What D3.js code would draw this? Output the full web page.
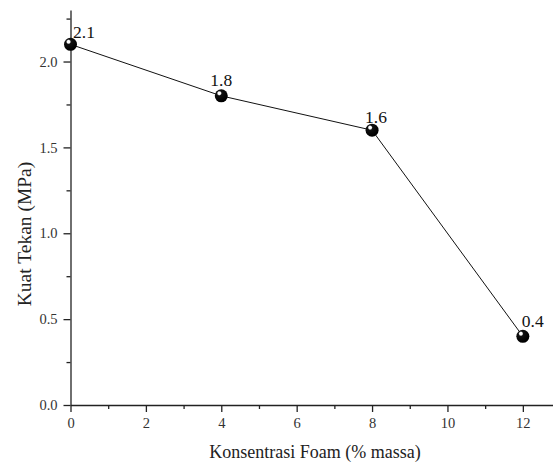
<!DOCTYPE html>
<html>
<head>
<meta charset="utf-8">
<script src="https://cdn.jsdelivr.net/npm/d3@7"></script>
<style>
  body { margin: 0; background: #fff; }
</style>
</head>
<body>
<div id="chart"></div>
<script>
// data
const foam = [0, 4, 8, 12];
const kuatTekan = [2.1, 1.8, 1.6, 0.4];
const pointLabels = ["2.1", "1.8", "1.6", "0.4"];
const xTicks = [0, 2, 4, 6, 8, 10, 12];
const yTicks = [0.0, 0.5, 1.0, 1.5, 2.0];

const width = 553, height = 468;
const margin = { top: 10, right: 0, bottom: 63, left: 70.5 };
const serif = '"Liberation Serif", "Times New Roman", serif';

const svg = d3.select('#chart').append('svg')
    .attr('width', width)
    .attr('height', height)
    .style('font-family', serif);

const x = d3.scaleLinear().domain([0, 12.8]).range([margin.left, width - margin.right]);
const y = d3.scaleLinear().domain([0, 2.3]).range([height - margin.bottom, margin.top]);

const axisColor = '#222';

// minor ticks first, then major axes on top
svg.append('g')
    .attr('transform', `translate(0,${y(0)})`)
    .call(d3.axisBottom(x).tickValues([1, 3, 5, 7, 9, 11]).tickSize(4).tickFormat(''))
    .call(g => g.select('.domain').remove())
    .call(g => g.selectAll('line').attr('stroke', axisColor).attr('stroke-width', 1.3));

svg.append('g')
    .attr('transform', `translate(${x(0)},0)`)
    .call(d3.axisLeft(y).tickValues([0.25, 0.75, 1.25, 1.75, 2.25]).tickSize(4).tickFormat(''))
    .call(g => g.select('.domain').remove())
    .call(g => g.selectAll('line').attr('stroke', axisColor).attr('stroke-width', 1.3));

const xAxis = svg.append('g')
    .attr('transform', `translate(0,${y(0)})`)
    .call(d3.axisBottom(x).tickValues(xTicks).tickSize(7).tickPadding(6).tickSizeOuter(0).tickFormat(d3.format('d')));

const yAxis = svg.append('g')
    .attr('transform', `translate(${x(0)},0)`)
    .call(d3.axisLeft(y).tickValues(yTicks).tickSize(7).tickPadding(6).tickSizeOuter(0).tickFormat(d3.format('.1f')));

[xAxis, yAxis].forEach(g => {
    g.attr('font-family', null).style('font-family', serif);
    g.select('.domain').attr('stroke', axisColor).attr('stroke-width', 1.3);
    g.selectAll('.tick line').attr('stroke', axisColor).attr('stroke-width', 1.3);
    g.selectAll('.tick text')
        .attr('fill', '#333')
        .style('font-family', serif)
        .style('font-size', '14.5px');
});

// axis titles
svg.append('text')
    .attr('x', 315)
    .attr('y', 458)
    .attr('text-anchor', 'middle')
    .attr('fill', '#222')
    .style('font-family', serif)
    .style('font-size', '18px')
    .text('Konsentrasi Foam (% massa)');

svg.append('text')
    .attr('transform', `translate(31,234) rotate(-90)`)
    .attr('text-anchor', 'middle')
    .attr('fill', '#222')
    .style('font-family', serif)
    .style('font-size', '19.5px')
    .text('Kuat Tekan (MPa)');

// line
const points = foam.map((f, i) => ({ x: f, y: kuatTekan[i], label: pointLabels[i] }));

svg.append('path')
    .datum(points)
    .attr('fill', 'none')
    .attr('stroke', '#111')
    .attr('stroke-width', 1)
    .attr('d', d3.line().x(d => x(d.x)).y(d => y(d.y)));

// sphere-like markers
const defs = svg.append('defs');
const grad = defs.append('radialGradient')
    .attr('id', 'ball')
    .attr('cx', '35%').attr('cy', '30%').attr('r', '65%')
    .attr('fx', '35%').attr('fy', '30%');
grad.append('stop').attr('offset', '0%').attr('stop-color', '#fff');
grad.append('stop').attr('offset', '16%').attr('stop-color', '#fff');
grad.append('stop').attr('offset', '30%').attr('stop-color', '#111');
grad.append('stop').attr('offset', '100%').attr('stop-color', '#000');

svg.append('g')
    .selectAll('circle')
    .data(points)
    .enter().append('circle')
    .attr('cx', d => x(d.x))
    .attr('cy', d => y(d.y))
    .attr('r', 6.5)
    .attr('fill', 'url(#ball)');

// value labels (nudged like the original)
const labelDx = [2.5, -11, -7, -1];
const labelDy = [-6, -10, -7, -9];

svg.append('g')
    .selectAll('text')
    .data(points)
    .enter().append('text')
    .attr('x', (d, i) => x(d.x) + labelDx[i])
    .attr('y', (d, i) => y(d.y) + labelDy[i])
    .attr('fill', '#111')
    .style('font-family', serif)
    .style('font-size', '17.5px')
    .text(d => d.label);
</script>
</body>
</html>
